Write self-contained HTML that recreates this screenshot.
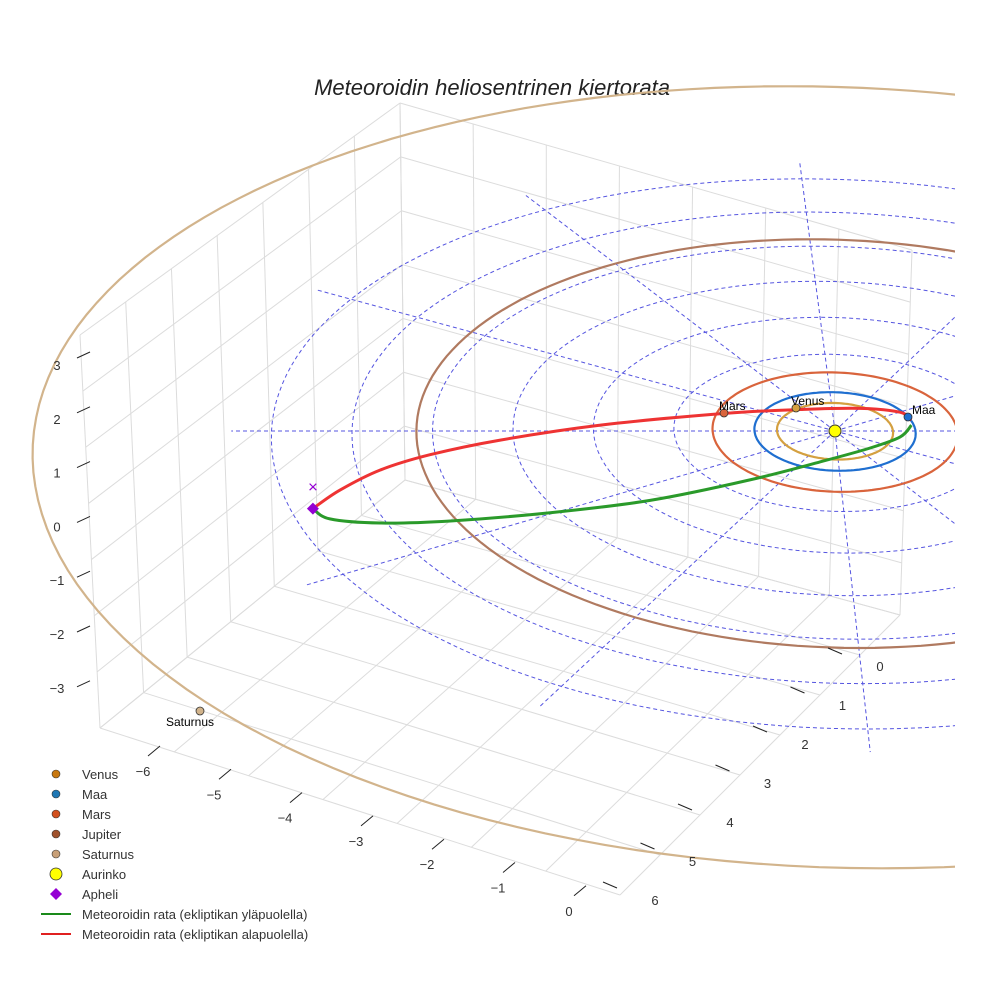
<!DOCTYPE html>
<html><head><meta charset="utf-8"><style>
body{margin:0;background:#fff}
svg{display:block;font-family:"Liberation Sans",sans-serif}
</style></head><body>
<svg id="c" width="984" height="984" viewBox="0 0 984 984">
<defs><clipPath id="clip"><rect x="0" y="0" width="955" height="984"/></clipPath></defs>
<text x="492" y="95" text-anchor="middle" font-size="22" font-style="italic" fill="#222">Meteoroidin heliosentrinen kiertorata</text>
<g id="box"></g>
<g id="plot" clip-path="url(#clip)"></g>
<g id="ticks"></g>
<g id="legend"></g>
</svg>
<script>
const NS='http://www.w3.org/2000/svg';
// ---- data ----
const zTicks=[3,2,1,0,-1,-2,-3];
const xTicks=[-6,-5,-4,-3,-2,-1,0];
const yTicks=[0,1,2,3,4,5,6];
const ringRadii=[1,2,3,4,5,6,7];
const spokeAngles=[0,30,60,90,120,150,180,210,240,270,300,330];
const planetNames=['Venus','Maa','Mars','Jupiter','Saturnus'];
const planetA=[0.72,1.0,1.52,5.2,9.95];
const planetColors=['#d4a040','#1f6fd0','#d9643c','#b07a60','#d2b48c'];
const planetAngle=[98,10,152,null,223];
const aboveX=[-6.45,-6.24,-5.63,-4.78,-3.57,-2.35,-1.12,-0.23,0.41,0.80,0.96];
const aboveY=[1.93,2.18,2.28,2.23,2.03,1.73,1.23,0.78,0.43,0.15,-0.15];
const belowX=[-6.45,-6.13,-5.64,-5.03,-4.16,-2.91,-1.35,-0.40,0.35,0.84,0.97];
const belowY=[1.93,1.48,0.98,0.60,0.23,-0.15,-0.45,-0.55,-0.58,-0.48,-0.28];
// ---- projection ----
const c=0.0119;
function px(x,y){return 835+4.7*y+80.5*x*(1+c*y);}
function py(x,y){return 431+39.3*y*(1+c*y);}
function mk(tag,attrs,parent){const e=document.createElementNS(NS,tag);for(const k in attrs)e.setAttribute(k,attrs[k]);parent.appendChild(e);return e;}
const plot=document.getElementById('plot'),box=document.getElementById('box'),ticks=document.getElementById('ticks'),leg=document.getElementById('legend');
// ---- box grid ----
const A=[80,335],B=[400,103],C=[405,480],D=[100,728],F=[620,895],G=[900,615],H=[912,250];
function lerp(p,q,t){return [p[0]+(q[0]-p[0])*t,p[1]+(q[1]-p[1])*t];}
function gl(p,q){const l=mk('line',{x1:p[0],y1:p[1],x2:q[0],y2:q[1],stroke:'#dcdcdc','stroke-width':1},box);

}
for(let i=0;i<=7;i++){const t=i/7;gl(lerp(D,A,t),lerp(C,B,t));gl(lerp(D,C,t),lerp(A,B,t));gl(lerp(C,G,t),lerp(B,H,t));gl(lerp(C,B,t),lerp(G,H,t));gl(lerp(D,F,t),lerp(C,G,t));gl(lerp(D,C,t),lerp(F,G,t));}
// ---- rings ----
function ellipsePath(r){let d='';for(let i=0;i<=180;i++){const a=i*2*Math.PI/180;const x=r*Math.cos(a),y=r*Math.sin(a);d+=(i?'L':'M')+px(x,y).toFixed(1)+','+py(x,y).toFixed(1);}return d;}
ringRadii.forEach(r=>{const p=mk('path',{d:ellipsePath(r),fill:'none',stroke:'#5555e0','stroke-width':1,'stroke-dasharray':'4,3'},plot);

});
spokeAngles.forEach(a=>{const t=a*Math.PI/180;const x=7.5*Math.cos(t),y=7.5*Math.sin(t);const l=mk('line',{x1:px(0,0),y1:py(0,0),x2:px(x,y),y2:py(x,y),stroke:'#5555e0','stroke-width':1,'stroke-dasharray':'4,3'},plot);

});
// ---- planet orbits ----
planetA.forEach((a,i)=>{const p=mk('path',{d:ellipsePath(a),fill:'none',stroke:planetColors[i],'stroke-width':2.2},plot);

});
// ---- meteoroid ----
function line(xs,ys,col,name){const P=xs.map((x,i)=>[px(x,ys[i]),py(x,ys[i])]);let d='M'+P[0][0].toFixed(1)+','+P[0][1].toFixed(1);
for(let i=0;i<P.length-1;i++){const p0=P[Math.max(0,i-1)],p1=P[i],p2=P[i+1],p3=P[Math.min(P.length-1,i+2)];
d+='C'+(p1[0]+(p2[0]-p0[0])/6).toFixed(1)+','+(p1[1]+(p2[1]-p0[1])/6).toFixed(1)+' '+(p2[0]-(p3[0]-p1[0])/6).toFixed(1)+','+(p2[1]-(p3[1]-p1[1])/6).toFixed(1)+' '+p2[0].toFixed(1)+','+p2[1].toFixed(1);}
const p=mk('path',{d:d,fill:'none',stroke:col,'stroke-width':3,'stroke-linejoin':'round'},plot);

}
line(belowX,belowY,'#ee3333','meteoroid-below-line');
line(aboveX,aboveY,'#2a9a2a','meteoroid-above-line');
// ---- sun ----
const sun=mk('circle',{cx:px(0,0),cy:py(0,0),r:6,fill:'#ffff00',stroke:'#333','stroke-width':1},plot);


// ---- planets ----
const planetPos=[[796,408],[908,417],[724,413],null,[200,711]];
planetA.forEach((a,i)=>{if(planetAngle[i]===null)return;const X=planetPos[i][0],Y=planetPos[i][1];
const m=mk('circle',{cx:X,cy:Y,r:4,fill:planetColors[i],stroke:'#333','stroke-width':0.8},i==4?box:plot);


const tx=mk('text',{x:i==1?X+4:(i==4?X-10:X-5),y:i==4?Y+15:Y-3,'font-size':12,fill:'#000','text-anchor':i==4?'middle':'start'},i==4?box:plot);tx.textContent=planetNames[i];

});
// ---- aphelion ----
const ax=px(aboveX[0],aboveY[0]),ay=py(aboveX[0],aboveY[0]);
const dm=mk('path',{d:`M${ax},${ay-6}L${ax+6},${ay}L${ax},${ay+6}L${ax-6},${ay}Z`,fill:'#9400d3'},plot);


const xm=mk('text',{x:ax,y:ay-16,'font-size':17,fill:'#9400d3','text-anchor':'middle'},plot);xm.textContent='×';


// ---- ticks ----
function tl(x,y,s,name){const t=mk('text',{x:x,y:y,'font-size':13,fill:'#333','text-anchor':'middle'},ticks);t.textContent=s;

}
function tm(x1,y1,x2,y2){const l=mk('line',{x1:x1,y1:y1,x2:x2,y2:y2,stroke:'#222','stroke-width':1},ticks);

}
zTicks.forEach((v,i)=>{const y=365+i*53.8;tl(57,y+5,String(v).replace('-','−'),'z-tick-label');tm(77,y-7+i*1,90,y-13+i*1);});
xTicks.forEach((v,i)=>{const x=143+i*71,y=771+i*23.3;tl(x,y+5,String(v).replace('-','−'),'x-tick-label');tm(x+5,y-15,x+17,y-25);});
yTicks.forEach((v,i)=>{const x=880-i*37.5,y=666+i*39;tl(x,y+5,String(v),'y-tick-label');tm(x-52,y-18,x-38,y-12);});
// ---- legend ----
const legItems=[['Venus','dot','#c87810'],['Maa','dot','#1f77b4'],['Mars','dot','#d2501e'],['Jupiter','dot','#a0522d'],['Saturnus','dot','#c8a078'],['Aurinko','sun','#ffff00'],['Apheli','dia','#9400d3'],['Meteoroidin rata (ekliptikan yläpuolella)','line','#1a8a1a'],['Meteoroidin rata (ekliptikan alapuolella)','line','#e02020']];
legItems.forEach((it,i)=>{const y=774+i*20;const g=mk('g',{},leg);


if(it[1]=='dot')mk('circle',{cx:56,cy:y,r:4,fill:it[2],stroke:'#333','stroke-width':0.6},g);
if(it[1]=='sun')mk('circle',{cx:56,cy:y,r:6,fill:it[2],stroke:'#333','stroke-width':0.8},g);
if(it[1]=='dia')mk('path',{d:`M56,${y-6}L62,${y}L56,${y+6}L50,${y}Z`,fill:it[2]},g);
if(it[1]=='line')mk('line',{x1:41,y1:y,x2:71,y2:y,stroke:it[2],'stroke-width':2},g);
const t=mk('text',{x:82,y:y+5,'font-size':13,fill:'#333'},g);t.textContent=it[0];});
</script>
</body></html>
